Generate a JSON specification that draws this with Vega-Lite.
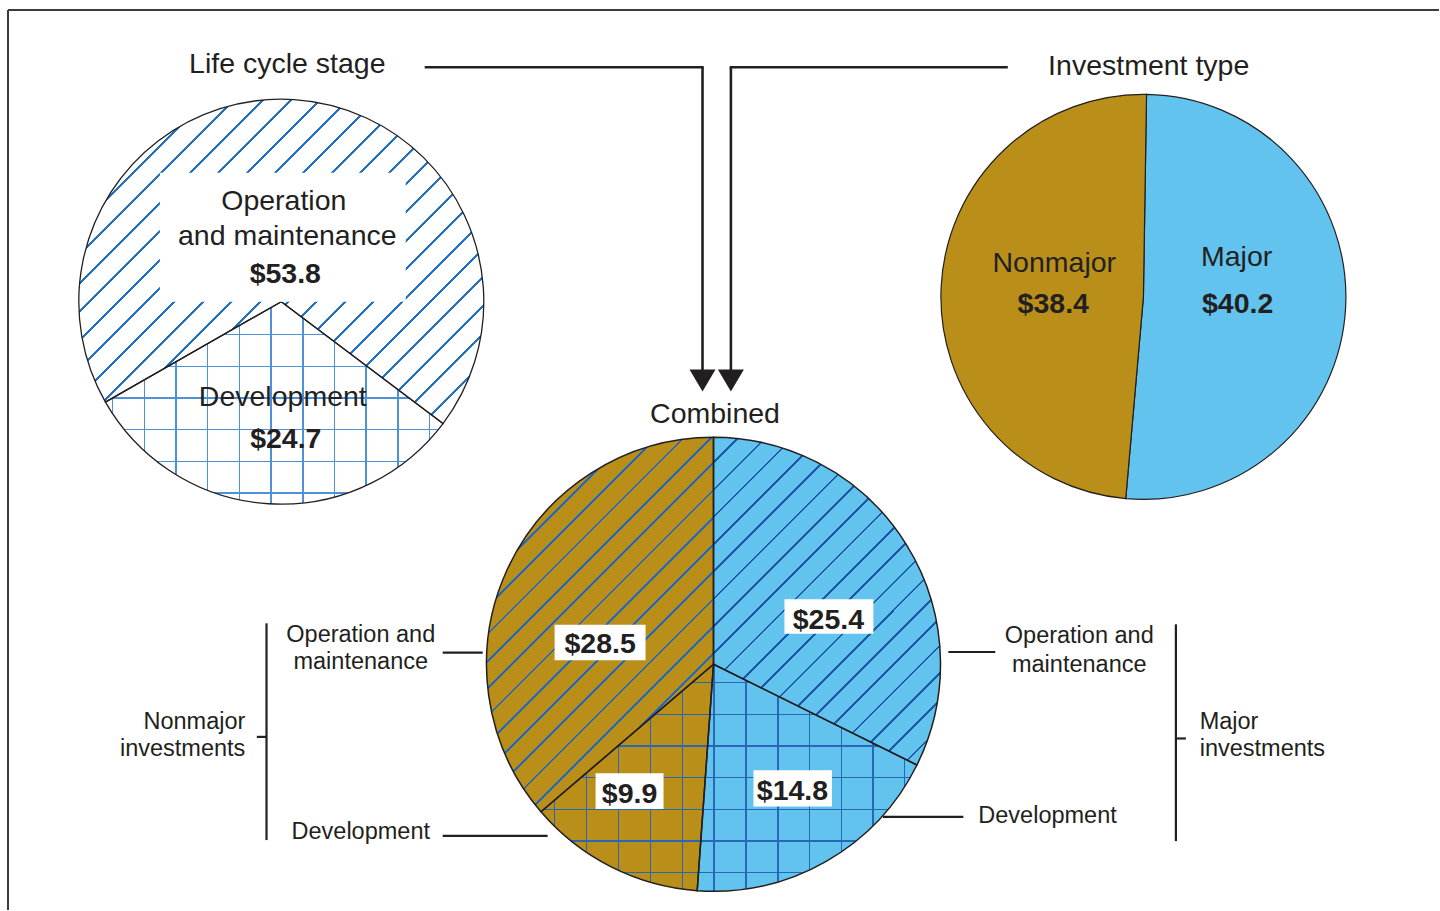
{
"$schema": "https://vega.github.io/schema/vega-lite/v6.json",
"width": 1440, "height": 911, "padding": 0,
"autosize": {"type": "fit", "contains": "padding"},
"background": "white",
"config": {"view": {"stroke": null}, "text": {"font": "Liberation Sans", "color": "#231f20"}},
"datasets": {
"slices": [
{"pie": "Life cycle stage", "stage": "Development", "type": null, "value": 24.7},
{"pie": "Life cycle stage", "stage": "Operation and maintenance", "type": null, "value": 53.8},
{"pie": "Investment type", "stage": null, "type": "Major", "value": 40.2},
{"pie": "Investment type", "stage": null, "type": "Nonmajor", "value": 38.4},
{"pie": "Combined", "stage": "Operation and maintenance", "type": "Major", "value": 25.4},
{"pie": "Combined", "stage": "Development", "type": "Major", "value": 14.8},
{"pie": "Combined", "stage": "Development", "type": "Nonmajor", "value": 9.9},
{"pie": "Combined", "stage": "Operation and maintenance", "type": "Nonmajor", "value": 28.5}
],
"lines": [
{"kind": "frame", "x": 8, "y": 10, "x2": 1440, "y2": 10},
{"kind": "frame", "x": 8, "y": 10, "x2": 8, "y2": 911},
{"kind": "arrow", "x": 425, "y": 67.3, "x2": 704.2, "y2": 67.3},
{"kind": "arrow", "x": 703, "y": 67.3, "x2": 703, "y2": 372},
{"kind": "arrow", "x": 730.2, "y": 67.3, "x2": 1008.5, "y2": 67.3},
{"kind": "arrow", "x": 731.4, "y": 67.3, "x2": 731.4, "y2": 372},
{"kind": "leader", "x": 443, "y": 653.3, "x2": 483, "y2": 653.3},
{"kind": "leader", "x": 443, "y": 836.7, "x2": 548, "y2": 836.7},
{"kind": "leader", "x": 266.7, "y": 624, "x2": 266.7, "y2": 841},
{"kind": "leader", "x": 257, "y": 737.7, "x2": 266.7, "y2": 737.7},
{"kind": "leader", "x": 949, "y": 652.7, "x2": 996, "y2": 652.7},
{"kind": "leader", "x": 883.5, "y": 817.7, "x2": 964, "y2": 817.7},
{"kind": "leader", "x": 1176.7, "y": 625, "x2": 1176.7, "y2": 842},
{"kind": "leader", "x": 1176.7, "y": 739.3, "x2": 1186.7, "y2": 739.3}
],
"arrowheads": [
{"x": 703, "y": 381},
{"x": 731.4, "y": 381}
],
"boxes": [
{"x": 160, "y": 173, "x2": 406, "y2": 302},
{"x": 555, "y": 625.5, "x2": 646, "y2": 661},
{"x": 785, "y": 600, "x2": 874, "y2": 634.5},
{"x": 596, "y": 774, "x2": 664, "y2": 810},
{"x": 754, "y": 771, "x2": 832.5, "y2": 807.5}
],
"labels": [
{"kind": "t", "text": "Life cycle stage", "x": 287.5, "y": 73.5},
{"kind": "t", "text": "Investment type", "x": 1149.5, "y": 75.5},
{"kind": "t", "text": "Combined", "x": 715.5, "y": 423.5},
{"kind": "t", "text": "Operation", "x": 284, "y": 210},
{"kind": "t", "text": "and maintenance", "x": 287.5, "y": 245},
{"kind": "t", "text": "Development", "x": 283, "y": 406.5},
{"kind": "t", "text": "Nonmajor", "x": 1055, "y": 272.5},
{"kind": "t", "text": "Major", "x": 1237.5, "y": 266},
{"kind": "b", "text": "$53.8", "x": 285.5, "y": 283.5},
{"kind": "b", "text": "$24.7", "x": 286, "y": 448.5},
{"kind": "b", "text": "$38.4", "x": 1054, "y": 313.5},
{"kind": "b", "text": "$40.2", "x": 1238.5, "y": 313.5},
{"kind": "b", "text": "$28.5", "x": 600.5, "y": 653.5},
{"kind": "b", "text": "$25.4", "x": 829, "y": 630},
{"kind": "b", "text": "$9.9", "x": 630, "y": 803.5},
{"kind": "b", "text": "$14.8", "x": 793, "y": 800.5},
{"kind": "sc", "text": "Operation and", "x": 361, "y": 642.5},
{"kind": "sc", "text": "maintenance", "x": 361, "y": 670},
{"kind": "sc", "text": "Development", "x": 361, "y": 840},
{"kind": "sc", "text": "Operation and", "x": 1080, "y": 644},
{"kind": "sc", "text": "maintenance", "x": 1080, "y": 672.5},
{"kind": "sr", "text": "Nonmajor", "x": 245.5, "y": 729.5},
{"kind": "sr", "text": "investments", "x": 245.5, "y": 757},
{"kind": "sl", "text": "Development", "x": 979, "y": 823.5},
{"kind": "sl", "text": "Major", "x": 1200.5, "y": 729.5},
{"kind": "sl", "text": "investments", "x": 1200.5, "y": 757}
]
},
"encoding": {
"x": {"field": "x", "type": "quantitative", "scale": {"domain": [0, 1440], "nice": false, "zero": false}, "axis": null},
"y": {"field": "y", "type": "quantitative", "scale": {"domain": [0, 911], "nice": false, "zero": false, "reverse": true}, "axis": null}
},
"resolve": {"scale": {"theta": "independent"}},
"layer": [
{
"data": {"name": "lines"},
"transform": [{"filter": "datum.kind==='frame'"}],
"mark": {"type": "rule", "stroke": "#3c3c3c", "strokeWidth": 2},
"encoding": {"x2": {"field": "x2"}, "y2": {"field": "y2"}}
},
{
"data": {"name": "slices"},
"transform": [{"filter": "datum.pie==='Life cycle stage'"}, {"stack": "value", "groupby": [], "as": ["s0", "s1"]}],
"mark": {"type": "arc", "radius": 202.5, "fill": "white", "x": {"expr": "scale('x', 281.5)"}, "y": {"expr": "scale('y', 302)"}},
"encoding": {
"x": null, "y": null,
"theta": {"field": "s0", "type": "quantitative", "stack": null, "scale": {"domain": [0, 78.5], "range": [2.2166, 8.4998], "nice": false, "zero": false}},
"theta2": {"field": "s1"}
}
},
{
"data": {"name": "slices"},
"transform": [{"filter": "datum.pie==='Life cycle stage'"}, {"stack": "value", "groupby": [], "as": ["s0", "s1"]}, {"filter": "datum.stage==='Operation and maintenance'"}],
"mark": {"type": "arc", "radius": 202.5, "x": {"expr": "scale('x', 281.5)"}, "y": {"expr": "scale('y', 302)"}, "fill": {"gradient": "linear", "x1": 0, "y1": 0, "x2": 1.0971, "y2": 0.8788, "stops": [
{"offset": 0, "color": "rgba(34,114,196,0)"},
{"offset": 0.01775, "color": "rgba(34,114,196,0)"}, {"offset": 0.01775, "color": "#2272C4"}, {"offset": 0.02175, "color": "#2272C4"}, {"offset": 0.02175, "color": "rgba(34,114,196,0)"},
{"offset": 0.05668, "color": "rgba(34,114,196,0)"}, {"offset": 0.05668, "color": "#2272C4"}, {"offset": 0.06068, "color": "#2272C4"}, {"offset": 0.06068, "color": "rgba(34,114,196,0)"},
{"offset": 0.09562, "color": "rgba(34,114,196,0)"}, {"offset": 0.09562, "color": "#2272C4"}, {"offset": 0.09962, "color": "#2272C4"}, {"offset": 0.09962, "color": "rgba(34,114,196,0)"},
{"offset": 0.13455, "color": "rgba(34,114,196,0)"}, {"offset": 0.13455, "color": "#2272C4"}, {"offset": 0.13855, "color": "#2272C4"}, {"offset": 0.13855, "color": "rgba(34,114,196,0)"},
{"offset": 0.17349, "color": "rgba(34,114,196,0)"}, {"offset": 0.17349, "color": "#2272C4"}, {"offset": 0.17749, "color": "#2272C4"}, {"offset": 0.17749, "color": "rgba(34,114,196,0)"},
{"offset": 0.21242, "color": "rgba(34,114,196,0)"}, {"offset": 0.21242, "color": "#2272C4"}, {"offset": 0.21642, "color": "#2272C4"}, {"offset": 0.21642, "color": "rgba(34,114,196,0)"},
{"offset": 0.25136, "color": "rgba(34,114,196,0)"}, {"offset": 0.25136, "color": "#2272C4"}, {"offset": 0.25536, "color": "#2272C4"}, {"offset": 0.25536, "color": "rgba(34,114,196,0)"},
{"offset": 0.2903, "color": "rgba(34,114,196,0)"}, {"offset": 0.2903, "color": "#2272C4"}, {"offset": 0.2943, "color": "#2272C4"}, {"offset": 0.2943, "color": "rgba(34,114,196,0)"},
{"offset": 0.32923, "color": "rgba(34,114,196,0)"}, {"offset": 0.32923, "color": "#2272C4"}, {"offset": 0.33323, "color": "#2272C4"}, {"offset": 0.33323, "color": "rgba(34,114,196,0)"},
{"offset": 0.36817, "color": "rgba(34,114,196,0)"}, {"offset": 0.36817, "color": "#2272C4"}, {"offset": 0.37217, "color": "#2272C4"}, {"offset": 0.37217, "color": "rgba(34,114,196,0)"},
{"offset": 0.4071, "color": "rgba(34,114,196,0)"}, {"offset": 0.4071, "color": "#2272C4"}, {"offset": 0.4111, "color": "#2272C4"}, {"offset": 0.4111, "color": "rgba(34,114,196,0)"},
{"offset": 0.44604, "color": "rgba(34,114,196,0)"}, {"offset": 0.44604, "color": "#2272C4"}, {"offset": 0.45004, "color": "#2272C4"}, {"offset": 0.45004, "color": "rgba(34,114,196,0)"},
{"offset": 0.48498, "color": "rgba(34,114,196,0)"}, {"offset": 0.48498, "color": "#2272C4"}, {"offset": 0.48898, "color": "#2272C4"}, {"offset": 0.48898, "color": "rgba(34,114,196,0)"},
{"offset": 0.52391, "color": "rgba(34,114,196,0)"}, {"offset": 0.52391, "color": "#2272C4"}, {"offset": 0.52791, "color": "#2272C4"}, {"offset": 0.52791, "color": "rgba(34,114,196,0)"},
{"offset": 0.56285, "color": "rgba(34,114,196,0)"}, {"offset": 0.56285, "color": "#2272C4"}, {"offset": 0.56685, "color": "#2272C4"}, {"offset": 0.56685, "color": "rgba(34,114,196,0)"},
{"offset": 0.60178, "color": "rgba(34,114,196,0)"}, {"offset": 0.60178, "color": "#2272C4"}, {"offset": 0.60578, "color": "#2272C4"}, {"offset": 0.60578, "color": "rgba(34,114,196,0)"},
{"offset": 0.64072, "color": "rgba(34,114,196,0)"}, {"offset": 0.64072, "color": "#2272C4"}, {"offset": 0.64472, "color": "#2272C4"}, {"offset": 0.64472, "color": "rgba(34,114,196,0)"},
{"offset": 0.67966, "color": "rgba(34,114,196,0)"}, {"offset": 0.67966, "color": "#2272C4"}, {"offset": 0.68366, "color": "#2272C4"}, {"offset": 0.68366, "color": "rgba(34,114,196,0)"},
{"offset": 0.71859, "color": "rgba(34,114,196,0)"}, {"offset": 0.71859, "color": "#2272C4"}, {"offset": 0.72259, "color": "#2272C4"}, {"offset": 0.72259, "color": "rgba(34,114,196,0)"},
{"offset": 0.75753, "color": "rgba(34,114,196,0)"}, {"offset": 0.75753, "color": "#2272C4"}, {"offset": 0.76153, "color": "#2272C4"}, {"offset": 0.76153, "color": "rgba(34,114,196,0)"},
{"offset": 0.79646, "color": "rgba(34,114,196,0)"}, {"offset": 0.79646, "color": "#2272C4"}, {"offset": 0.80046, "color": "#2272C4"}, {"offset": 0.80046, "color": "rgba(34,114,196,0)"},
{"offset": 0.8354, "color": "rgba(34,114,196,0)"}, {"offset": 0.8354, "color": "#2272C4"}, {"offset": 0.8394, "color": "#2272C4"}, {"offset": 0.8394, "color": "rgba(34,114,196,0)"},
{"offset": 0.87434, "color": "rgba(34,114,196,0)"}, {"offset": 0.87434, "color": "#2272C4"}, {"offset": 0.87834, "color": "#2272C4"}, {"offset": 0.87834, "color": "rgba(34,114,196,0)"},
{"offset": 0.91327, "color": "rgba(34,114,196,0)"}, {"offset": 0.91327, "color": "#2272C4"}, {"offset": 0.91727, "color": "#2272C4"}, {"offset": 0.91727, "color": "rgba(34,114,196,0)"},
{"offset": 0.95221, "color": "rgba(34,114,196,0)"}, {"offset": 0.95221, "color": "#2272C4"}, {"offset": 0.95621, "color": "#2272C4"}, {"offset": 0.95621, "color": "rgba(34,114,196,0)"},
{"offset": 0.99114, "color": "rgba(34,114,196,0)"}, {"offset": 0.99114, "color": "#2272C4"}, {"offset": 0.99514, "color": "#2272C4"}, {"offset": 0.99514, "color": "rgba(34,114,196,0)"},
{"offset": 1, "color": "rgba(34,114,196,0)"}
]}},
"encoding": {
"x": null, "y": null,
"theta": {"field": "s0", "type": "quantitative", "stack": null, "scale": {"domain": [0, 78.5], "range": [2.2166, 8.4998], "nice": false, "zero": false}},
"theta2": {"field": "s1"}
}
},
{
"data": {"name": "slices"},
"transform": [{"filter": "datum.pie==='Life cycle stage'"}, {"stack": "value", "groupby": [], "as": ["s0", "s1"]}, {"filter": "datum.stage==='Development'"}],
"mark": {"type": "arc", "radius": 202.5, "x": {"expr": "scale('x', 281.5)"}, "y": {"expr": "scale('y', 302)"}, "fill": {"gradient": "linear", "x1": 0, "y1": 0, "x2": 1, "y2": 0, "stops": [
{"offset": 0, "color": "rgba(77,146,216,0)"},
{"offset": 0.0186, "color": "rgba(77,146,216,0)"}, {"offset": 0.0186, "color": "#4D92D8"}, {"offset": 0.0228, "color": "#4D92D8"}, {"offset": 0.0228, "color": "rgba(77,146,216,0)"},
{"offset": 0.1135, "color": "rgba(77,146,216,0)"}, {"offset": 0.1135, "color": "#4D92D8"}, {"offset": 0.1177, "color": "#4D92D8"}, {"offset": 0.1177, "color": "rgba(77,146,216,0)"},
{"offset": 0.2074, "color": "rgba(77,146,216,0)"}, {"offset": 0.2074, "color": "#4D92D8"}, {"offset": 0.2116, "color": "#4D92D8"}, {"offset": 0.2116, "color": "rgba(77,146,216,0)"},
{"offset": 0.301, "color": "rgba(77,146,216,0)"}, {"offset": 0.301, "color": "#4D92D8"}, {"offset": 0.3052, "color": "#4D92D8"}, {"offset": 0.3052, "color": "rgba(77,146,216,0)"},
{"offset": 0.3949, "color": "rgba(77,146,216,0)"}, {"offset": 0.3949, "color": "#4D92D8"}, {"offset": 0.3991, "color": "#4D92D8"}, {"offset": 0.3991, "color": "rgba(77,146,216,0)"},
{"offset": 0.4889, "color": "rgba(77,146,216,0)"}, {"offset": 0.4889, "color": "#4D92D8"}, {"offset": 0.4931, "color": "#4D92D8"}, {"offset": 0.4931, "color": "rgba(77,146,216,0)"},
{"offset": 0.5825, "color": "rgba(77,146,216,0)"}, {"offset": 0.5825, "color": "#4D92D8"}, {"offset": 0.5867, "color": "#4D92D8"}, {"offset": 0.5867, "color": "rgba(77,146,216,0)"},
{"offset": 0.6764, "color": "rgba(77,146,216,0)"}, {"offset": 0.6764, "color": "#4D92D8"}, {"offset": 0.6806, "color": "#4D92D8"}, {"offset": 0.6806, "color": "rgba(77,146,216,0)"},
{"offset": 0.7703, "color": "rgba(77,146,216,0)"}, {"offset": 0.7703, "color": "#4D92D8"}, {"offset": 0.7745, "color": "#4D92D8"}, {"offset": 0.7745, "color": "rgba(77,146,216,0)"},
{"offset": 0.864, "color": "rgba(77,146,216,0)"}, {"offset": 0.864, "color": "#4D92D8"}, {"offset": 0.8682, "color": "#4D92D8"}, {"offset": 0.8682, "color": "rgba(77,146,216,0)"},
{"offset": 0.9579, "color": "rgba(77,146,216,0)"}, {"offset": 0.9579, "color": "#4D92D8"}, {"offset": 0.9621, "color": "#4D92D8"}, {"offset": 0.9621, "color": "rgba(77,146,216,0)"},
{"offset": 1, "color": "rgba(77,146,216,0)"}
]}},
"encoding": {
"x": null, "y": null,
"theta": {"field": "s0", "type": "quantitative", "stack": null, "scale": {"domain": [0, 78.5], "range": [2.2166, 8.4998], "nice": false, "zero": false}},
"theta2": {"field": "s1"}
}
},
{
"data": {"name": "slices"},
"transform": [{"filter": "datum.pie==='Life cycle stage'"}, {"stack": "value", "groupby": [], "as": ["s0", "s1"]}, {"filter": "datum.stage==='Development'"}],
"mark": {"type": "arc", "radius": 202.5, "x": {"expr": "scale('x', 281.5)"}, "y": {"expr": "scale('y', 302)"}, "fill": {"gradient": "linear", "x1": 0, "y1": 0, "x2": 0, "y2": 1, "stops": [
{"offset": 0, "color": "rgba(77,146,216,0)"},
{"offset": 0.1595, "color": "rgba(77,146,216,0)"}, {"offset": 0.1595, "color": "#4D92D8"}, {"offset": 0.1665, "color": "#4D92D8"}, {"offset": 0.1665, "color": "rgba(77,146,216,0)"},
{"offset": 0.316, "color": "rgba(77,146,216,0)"}, {"offset": 0.316, "color": "#4D92D8"}, {"offset": 0.323, "color": "#4D92D8"}, {"offset": 0.323, "color": "rgba(77,146,216,0)"},
{"offset": 0.4721, "color": "rgba(77,146,216,0)"}, {"offset": 0.4721, "color": "#4D92D8"}, {"offset": 0.4791, "color": "#4D92D8"}, {"offset": 0.4791, "color": "rgba(77,146,216,0)"},
{"offset": 0.6286, "color": "rgba(77,146,216,0)"}, {"offset": 0.6286, "color": "#4D92D8"}, {"offset": 0.6356, "color": "#4D92D8"}, {"offset": 0.6356, "color": "rgba(77,146,216,0)"},
{"offset": 0.7851, "color": "rgba(77,146,216,0)"}, {"offset": 0.7851, "color": "#4D92D8"}, {"offset": 0.7921, "color": "#4D92D8"}, {"offset": 0.7921, "color": "rgba(77,146,216,0)"},
{"offset": 0.9412, "color": "rgba(77,146,216,0)"}, {"offset": 0.9412, "color": "#4D92D8"}, {"offset": 0.9482, "color": "#4D92D8"}, {"offset": 0.9482, "color": "rgba(77,146,216,0)"},
{"offset": 1, "color": "rgba(77,146,216,0)"}
]}},
"encoding": {
"x": null, "y": null,
"theta": {"field": "s0", "type": "quantitative", "stack": null, "scale": {"domain": [0, 78.5], "range": [2.2166, 8.4998], "nice": false, "zero": false}},
"theta2": {"field": "s1"}
}
},
{
"data": {"name": "slices"},
"transform": [{"filter": "datum.pie==='Life cycle stage'"}, {"stack": "value", "groupby": [], "as": ["s0", "s1"]}],
"mark": {"type": "arc", "radius": 202.5, "filled": false, "stroke": "#231f20", "strokeWidth": 1.3, "x": {"expr": "scale('x', 281.5)"}, "y": {"expr": "scale('y', 302)"}},
"encoding": {
"x": null, "y": null,
"theta": {"field": "s0", "type": "quantitative", "stack": null, "scale": {"domain": [0, 78.5], "range": [2.2166, 8.4998], "nice": false, "zero": false}},
"theta2": {"field": "s1"}
}
},
{
"data": {"name": "slices"},
"transform": [{"filter": "datum.pie==='Investment type'"}, {"stack": "value", "groupby": [], "as": ["s0", "s1"]}],
"mark": {"type": "arc", "radius": 202.5, "stroke": "#231f20", "strokeWidth": 1.2, "x": {"expr": "scale('x', 1144.2)"}, "y": {"expr": "scale('y', 297.2)"}},
"encoding": {
"x": null, "y": null,
"theta": {"field": "s0", "type": "quantitative", "stack": null, "scale": {"domain": [0, 78.6], "range": [0.0154, 6.2986], "nice": false, "zero": false}},
"theta2": {"field": "s1"},
"fill": {"field": "type", "type": "nominal", "scale": {"domain": ["Major", "Nonmajor"], "range": ["#62C4EE", "#B98F1A"]}, "legend": null}
}
},
{
"data": {"name": "slices"},
"transform": [{"filter": "datum.pie==='Combined'"}, {"stack": "value", "groupby": [], "as": ["s0", "s1"]}],
"mark": {"type": "arc", "radius": 227, "x": {"expr": "scale('x', 714)"}, "y": {"expr": "scale('y', 665)"}},
"encoding": {
"x": null, "y": null,
"theta": {"field": "s0", "type": "quantitative", "stack": null, "scale": {"domain": [0, 78.6], "range": [0, 6.283185], "nice": false, "zero": false}},
"theta2": {"field": "s1"},
"fill": {"field": "type", "type": "nominal", "scale": {"domain": ["Major", "Nonmajor"], "range": ["#62C4EE", "#B98F1A"]}, "legend": null}
}
},
{
"data": {"name": "slices"},
"transform": [{"filter": "datum.pie==='Combined'"}, {"stack": "value", "groupby": [], "as": ["s0", "s1"]}, {"filter": "datum.stage==='Operation and maintenance' && datum.type==='Major'"}],
"mark": {"type": "arc", "radius": 227, "x": {"expr": "scale('x', 714)"}, "y": {"expr": "scale('y', 665)"}, "fill": {"gradient": "linear", "x1": 0, "y1": 0, "x2": 0.7924, "y2": 1.1438, "stops": [
{"offset": 0, "color": "rgba(28,88,166,0)"},
{"offset": 0.0432, "color": "rgba(28,88,166,0)"}, {"offset": 0.0432, "color": "#1C58A6"}, {"offset": 0.048, "color": "#1C58A6"}, {"offset": 0.048, "color": "rgba(28,88,166,0)"},
{"offset": 0.0924, "color": "rgba(28,88,166,0)"}, {"offset": 0.0924, "color": "#1C58A6"}, {"offset": 0.0972, "color": "#1C58A6"}, {"offset": 0.0972, "color": "rgba(28,88,166,0)"},
{"offset": 0.1416, "color": "rgba(28,88,166,0)"}, {"offset": 0.1416, "color": "#1C58A6"}, {"offset": 0.1464, "color": "#1C58A6"}, {"offset": 0.1464, "color": "rgba(28,88,166,0)"},
{"offset": 0.1908, "color": "rgba(28,88,166,0)"}, {"offset": 0.1908, "color": "#1C58A6"}, {"offset": 0.1956, "color": "#1C58A6"}, {"offset": 0.1956, "color": "rgba(28,88,166,0)"},
{"offset": 0.2401, "color": "rgba(28,88,166,0)"}, {"offset": 0.2401, "color": "#1C58A6"}, {"offset": 0.2449, "color": "#1C58A6"}, {"offset": 0.2449, "color": "rgba(28,88,166,0)"},
{"offset": 0.2893, "color": "rgba(28,88,166,0)"}, {"offset": 0.2893, "color": "#1C58A6"}, {"offset": 0.2941, "color": "#1C58A6"}, {"offset": 0.2941, "color": "rgba(28,88,166,0)"},
{"offset": 0.3385, "color": "rgba(28,88,166,0)"}, {"offset": 0.3385, "color": "#1C58A6"}, {"offset": 0.3433, "color": "#1C58A6"}, {"offset": 0.3433, "color": "rgba(28,88,166,0)"},
{"offset": 0.3877, "color": "rgba(28,88,166,0)"}, {"offset": 0.3877, "color": "#1C58A6"}, {"offset": 0.3925, "color": "#1C58A6"}, {"offset": 0.3925, "color": "rgba(28,88,166,0)"},
{"offset": 0.4369, "color": "rgba(28,88,166,0)"}, {"offset": 0.4369, "color": "#1C58A6"}, {"offset": 0.4417, "color": "#1C58A6"}, {"offset": 0.4417, "color": "rgba(28,88,166,0)"},
{"offset": 0.4861, "color": "rgba(28,88,166,0)"}, {"offset": 0.4861, "color": "#1C58A6"}, {"offset": 0.4909, "color": "#1C58A6"}, {"offset": 0.4909, "color": "rgba(28,88,166,0)"},
{"offset": 0.5354, "color": "rgba(28,88,166,0)"}, {"offset": 0.5354, "color": "#1C58A6"}, {"offset": 0.5402, "color": "#1C58A6"}, {"offset": 0.5402, "color": "rgba(28,88,166,0)"},
{"offset": 0.5846, "color": "rgba(28,88,166,0)"}, {"offset": 0.5846, "color": "#1C58A6"}, {"offset": 0.5894, "color": "#1C58A6"}, {"offset": 0.5894, "color": "rgba(28,88,166,0)"},
{"offset": 0.6338, "color": "rgba(28,88,166,0)"}, {"offset": 0.6338, "color": "#1C58A6"}, {"offset": 0.6386, "color": "#1C58A6"}, {"offset": 0.6386, "color": "rgba(28,88,166,0)"},
{"offset": 0.683, "color": "rgba(28,88,166,0)"}, {"offset": 0.683, "color": "#1C58A6"}, {"offset": 0.6878, "color": "#1C58A6"}, {"offset": 0.6878, "color": "rgba(28,88,166,0)"},
{"offset": 0.7322, "color": "rgba(28,88,166,0)"}, {"offset": 0.7322, "color": "#1C58A6"}, {"offset": 0.737, "color": "#1C58A6"}, {"offset": 0.737, "color": "rgba(28,88,166,0)"},
{"offset": 0.7814, "color": "rgba(28,88,166,0)"}, {"offset": 0.7814, "color": "#1C58A6"}, {"offset": 0.7862, "color": "#1C58A6"}, {"offset": 0.7862, "color": "rgba(28,88,166,0)"},
{"offset": 0.8306, "color": "rgba(28,88,166,0)"}, {"offset": 0.8306, "color": "#1C58A6"}, {"offset": 0.8354, "color": "#1C58A6"}, {"offset": 0.8354, "color": "rgba(28,88,166,0)"},
{"offset": 0.8799, "color": "rgba(28,88,166,0)"}, {"offset": 0.8799, "color": "#1C58A6"}, {"offset": 0.8847, "color": "#1C58A6"}, {"offset": 0.8847, "color": "rgba(28,88,166,0)"},
{"offset": 0.9291, "color": "rgba(28,88,166,0)"}, {"offset": 0.9291, "color": "#1C58A6"}, {"offset": 0.9339, "color": "#1C58A6"}, {"offset": 0.9339, "color": "rgba(28,88,166,0)"},
{"offset": 0.9783, "color": "rgba(28,88,166,0)"}, {"offset": 0.9783, "color": "#1C58A6"}, {"offset": 0.9831, "color": "#1C58A6"}, {"offset": 0.9831, "color": "rgba(28,88,166,0)"},
{"offset": 1, "color": "rgba(28,88,166,0)"}
]}},
"encoding": {
"x": null, "y": null,
"theta": {"field": "s0", "type": "quantitative", "stack": null, "scale": {"domain": [0, 78.6], "range": [0, 6.283185], "nice": false, "zero": false}},
"theta2": {"field": "s1"}
}
},
{
"data": {"name": "slices"},
"transform": [{"filter": "datum.pie==='Combined'"}, {"stack": "value", "groupby": [], "as": ["s0", "s1"]}, {"filter": "datum.stage==='Operation and maintenance' && datum.type==='Nonmajor'"}],
"mark": {"type": "arc", "radius": 227, "x": {"expr": "scale('x', 714)"}, "y": {"expr": "scale('y', 665)"}, "fill": {"gradient": "linear", "x1": 0, "y1": 0, "x2": 0.712, "y2": 1.1746, "stops": [
{"offset": 0, "color": "rgba(36,104,188,0)"},
{"offset": 0.0088, "color": "rgba(36,104,188,0)"}, {"offset": 0.0088, "color": "#2468BC"}, {"offset": 0.0132, "color": "#2468BC"}, {"offset": 0.0132, "color": "rgba(36,104,188,0)"},
{"offset": 0.0542, "color": "rgba(36,104,188,0)"}, {"offset": 0.0542, "color": "#2468BC"}, {"offset": 0.0586, "color": "#2468BC"}, {"offset": 0.0586, "color": "rgba(36,104,188,0)"},
{"offset": 0.0996, "color": "rgba(36,104,188,0)"}, {"offset": 0.0996, "color": "#2468BC"}, {"offset": 0.104, "color": "#2468BC"}, {"offset": 0.104, "color": "rgba(36,104,188,0)"},
{"offset": 0.145, "color": "rgba(36,104,188,0)"}, {"offset": 0.145, "color": "#2468BC"}, {"offset": 0.1494, "color": "#2468BC"}, {"offset": 0.1494, "color": "rgba(36,104,188,0)"},
{"offset": 0.1903, "color": "rgba(36,104,188,0)"}, {"offset": 0.1903, "color": "#2468BC"}, {"offset": 0.1947, "color": "#2468BC"}, {"offset": 0.1947, "color": "rgba(36,104,188,0)"},
{"offset": 0.2357, "color": "rgba(36,104,188,0)"}, {"offset": 0.2357, "color": "#2468BC"}, {"offset": 0.2401, "color": "#2468BC"}, {"offset": 0.2401, "color": "rgba(36,104,188,0)"},
{"offset": 0.2811, "color": "rgba(36,104,188,0)"}, {"offset": 0.2811, "color": "#2468BC"}, {"offset": 0.2855, "color": "#2468BC"}, {"offset": 0.2855, "color": "rgba(36,104,188,0)"},
{"offset": 0.3265, "color": "rgba(36,104,188,0)"}, {"offset": 0.3265, "color": "#2468BC"}, {"offset": 0.3309, "color": "#2468BC"}, {"offset": 0.3309, "color": "rgba(36,104,188,0)"},
{"offset": 0.3719, "color": "rgba(36,104,188,0)"}, {"offset": 0.3719, "color": "#2468BC"}, {"offset": 0.3763, "color": "#2468BC"}, {"offset": 0.3763, "color": "rgba(36,104,188,0)"},
{"offset": 0.4173, "color": "rgba(36,104,188,0)"}, {"offset": 0.4173, "color": "#2468BC"}, {"offset": 0.4217, "color": "#2468BC"}, {"offset": 0.4217, "color": "rgba(36,104,188,0)"},
{"offset": 0.4627, "color": "rgba(36,104,188,0)"}, {"offset": 0.4627, "color": "#2468BC"}, {"offset": 0.4671, "color": "#2468BC"}, {"offset": 0.4671, "color": "rgba(36,104,188,0)"},
{"offset": 0.5081, "color": "rgba(36,104,188,0)"}, {"offset": 0.5081, "color": "#2468BC"}, {"offset": 0.5125, "color": "#2468BC"}, {"offset": 0.5125, "color": "rgba(36,104,188,0)"},
{"offset": 0.5534, "color": "rgba(36,104,188,0)"}, {"offset": 0.5534, "color": "#2468BC"}, {"offset": 0.5578, "color": "#2468BC"}, {"offset": 0.5578, "color": "rgba(36,104,188,0)"},
{"offset": 0.5988, "color": "rgba(36,104,188,0)"}, {"offset": 0.5988, "color": "#2468BC"}, {"offset": 0.6032, "color": "#2468BC"}, {"offset": 0.6032, "color": "rgba(36,104,188,0)"},
{"offset": 0.6442, "color": "rgba(36,104,188,0)"}, {"offset": 0.6442, "color": "#2468BC"}, {"offset": 0.6486, "color": "#2468BC"}, {"offset": 0.6486, "color": "rgba(36,104,188,0)"},
{"offset": 0.6896, "color": "rgba(36,104,188,0)"}, {"offset": 0.6896, "color": "#2468BC"}, {"offset": 0.694, "color": "#2468BC"}, {"offset": 0.694, "color": "rgba(36,104,188,0)"},
{"offset": 0.735, "color": "rgba(36,104,188,0)"}, {"offset": 0.735, "color": "#2468BC"}, {"offset": 0.7394, "color": "#2468BC"}, {"offset": 0.7394, "color": "rgba(36,104,188,0)"},
{"offset": 1, "color": "rgba(36,104,188,0)"}
]}},
"encoding": {
"x": null, "y": null,
"theta": {"field": "s0", "type": "quantitative", "stack": null, "scale": {"domain": [0, 78.6], "range": [0, 6.283185], "nice": false, "zero": false}},
"theta2": {"field": "s1"}
}
},
{
"data": {"name": "slices"},
"transform": [{"filter": "datum.pie==='Combined'"}, {"stack": "value", "groupby": [], "as": ["s0", "s1"]}, {"filter": "datum.stage==='Development' && datum.type==='Major'"}],
"mark": {"type": "arc", "radius": 227, "x": {"expr": "scale('x', 714)"}, "y": {"expr": "scale('y', 665)"}, "fill": {"gradient": "linear", "x1": 0, "y1": 0, "x2": 1, "y2": 0, "stops": [
{"offset": 0, "color": "rgba(42,102,184,0)"},
{"offset": 0.0724, "color": "rgba(42,102,184,0)"}, {"offset": 0.0724, "color": "#2A66B8"}, {"offset": 0.0788, "color": "#2A66B8"}, {"offset": 0.0788, "color": "rgba(42,102,184,0)"},
{"offset": 0.2198, "color": "rgba(42,102,184,0)"}, {"offset": 0.2198, "color": "#2A66B8"}, {"offset": 0.2262, "color": "#2A66B8"}, {"offset": 0.2262, "color": "rgba(42,102,184,0)"},
{"offset": 0.3637, "color": "rgba(42,102,184,0)"}, {"offset": 0.3637, "color": "#2A66B8"}, {"offset": 0.3701, "color": "#2A66B8"}, {"offset": 0.3701, "color": "rgba(42,102,184,0)"},
{"offset": 0.5079, "color": "rgba(42,102,184,0)"}, {"offset": 0.5079, "color": "#2A66B8"}, {"offset": 0.5143, "color": "#2A66B8"}, {"offset": 0.5143, "color": "rgba(42,102,184,0)"},
{"offset": 0.6522, "color": "rgba(42,102,184,0)"}, {"offset": 0.6522, "color": "#2A66B8"}, {"offset": 0.6586, "color": "#2A66B8"}, {"offset": 0.6586, "color": "rgba(42,102,184,0)"},
{"offset": 0.7961, "color": "rgba(42,102,184,0)"}, {"offset": 0.7961, "color": "#2A66B8"}, {"offset": 0.8025, "color": "#2A66B8"}, {"offset": 0.8025, "color": "rgba(42,102,184,0)"},
{"offset": 0.9399, "color": "rgba(42,102,184,0)"}, {"offset": 0.9399, "color": "#2A66B8"}, {"offset": 0.9463, "color": "#2A66B8"}, {"offset": 0.9463, "color": "rgba(42,102,184,0)"},
{"offset": 1, "color": "rgba(42,102,184,0)"}
]}},
"encoding": {
"x": null, "y": null,
"theta": {"field": "s0", "type": "quantitative", "stack": null, "scale": {"domain": [0, 78.6], "range": [0, 6.283185], "nice": false, "zero": false}},
"theta2": {"field": "s1"}
}
},
{
"data": {"name": "slices"},
"transform": [{"filter": "datum.pie==='Combined'"}, {"stack": "value", "groupby": [], "as": ["s0", "s1"]}, {"filter": "datum.stage==='Development' && datum.type==='Major'"}],
"mark": {"type": "arc", "radius": 227, "x": {"expr": "scale('x', 714)"}, "y": {"expr": "scale('y', 665)"}, "fill": {"gradient": "linear", "x1": 0, "y1": 0, "x2": 0, "y2": 1, "stops": [
{"offset": 0, "color": "rgba(42,102,184,0)"},
{"offset": 0.0775, "color": "rgba(42,102,184,0)"}, {"offset": 0.0775, "color": "#2A66B8"}, {"offset": 0.0837, "color": "#2A66B8"}, {"offset": 0.0837, "color": "rgba(42,102,184,0)"},
{"offset": 0.2172, "color": "rgba(42,102,184,0)"}, {"offset": 0.2172, "color": "#2A66B8"}, {"offset": 0.2234, "color": "#2A66B8"}, {"offset": 0.2234, "color": "rgba(42,102,184,0)"},
{"offset": 0.3568, "color": "rgba(42,102,184,0)"}, {"offset": 0.3568, "color": "#2A66B8"}, {"offset": 0.363, "color": "#2A66B8"}, {"offset": 0.363, "color": "rgba(42,102,184,0)"},
{"offset": 0.496, "color": "rgba(42,102,184,0)"}, {"offset": 0.496, "color": "#2A66B8"}, {"offset": 0.5022, "color": "#2A66B8"}, {"offset": 0.5022, "color": "rgba(42,102,184,0)"},
{"offset": 0.6357, "color": "rgba(42,102,184,0)"}, {"offset": 0.6357, "color": "#2A66B8"}, {"offset": 0.6419, "color": "#2A66B8"}, {"offset": 0.6419, "color": "rgba(42,102,184,0)"},
{"offset": 0.7753, "color": "rgba(42,102,184,0)"}, {"offset": 0.7753, "color": "#2A66B8"}, {"offset": 0.7815, "color": "#2A66B8"}, {"offset": 0.7815, "color": "rgba(42,102,184,0)"},
{"offset": 0.9145, "color": "rgba(42,102,184,0)"}, {"offset": 0.9145, "color": "#2A66B8"}, {"offset": 0.9207, "color": "#2A66B8"}, {"offset": 0.9207, "color": "rgba(42,102,184,0)"},
{"offset": 1, "color": "rgba(42,102,184,0)"}
]}},
"encoding": {
"x": null, "y": null,
"theta": {"field": "s0", "type": "quantitative", "stack": null, "scale": {"domain": [0, 78.6], "range": [0, 6.283185], "nice": false, "zero": false}},
"theta2": {"field": "s1"}
}
},
{
"data": {"name": "slices"},
"transform": [{"filter": "datum.pie==='Combined'"}, {"stack": "value", "groupby": [], "as": ["s0", "s1"]}, {"filter": "datum.stage==='Development' && datum.type==='Nonmajor'"}],
"mark": {"type": "arc", "radius": 227, "x": {"expr": "scale('x', 714)"}, "y": {"expr": "scale('y', 665)"}, "fill": {"gradient": "linear", "x1": 0, "y1": 0, "x2": 1, "y2": 0, "stops": [
{"offset": 0, "color": "rgba(42,102,184,0)"},
{"offset": 0.0747, "color": "rgba(42,102,184,0)"}, {"offset": 0.0747, "color": "#2A66B8"}, {"offset": 0.0829, "color": "#2A66B8"}, {"offset": 0.0829, "color": "rgba(42,102,184,0)"},
{"offset": 0.2584, "color": "rgba(42,102,184,0)"}, {"offset": 0.2584, "color": "#2A66B8"}, {"offset": 0.2666, "color": "#2A66B8"}, {"offset": 0.2666, "color": "rgba(42,102,184,0)"},
{"offset": 0.4455, "color": "rgba(42,102,184,0)"}, {"offset": 0.4455, "color": "#2A66B8"}, {"offset": 0.4537, "color": "#2A66B8"}, {"offset": 0.4537, "color": "rgba(42,102,184,0)"},
{"offset": 0.6292, "color": "rgba(42,102,184,0)"}, {"offset": 0.6292, "color": "#2A66B8"}, {"offset": 0.6374, "color": "#2A66B8"}, {"offset": 0.6374, "color": "rgba(42,102,184,0)"},
{"offset": 0.8146, "color": "rgba(42,102,184,0)"}, {"offset": 0.8146, "color": "#2A66B8"}, {"offset": 0.8228, "color": "#2A66B8"}, {"offset": 0.8228, "color": "rgba(42,102,184,0)"},
{"offset": 1, "color": "rgba(42,102,184,0)"}
]}},
"encoding": {
"x": null, "y": null,
"theta": {"field": "s0", "type": "quantitative", "stack": null, "scale": {"domain": [0, 78.6], "range": [0, 6.283185], "nice": false, "zero": false}},
"theta2": {"field": "s1"}
}
},
{
"data": {"name": "slices"},
"transform": [{"filter": "datum.pie==='Combined'"}, {"stack": "value", "groupby": [], "as": ["s0", "s1"]}, {"filter": "datum.stage==='Development' && datum.type==='Nonmajor'"}],
"mark": {"type": "arc", "radius": 227, "x": {"expr": "scale('x', 714)"}, "y": {"expr": "scale('y', 665)"}, "fill": {"gradient": "linear", "x1": 0, "y1": 0, "x2": 0, "y2": 1, "stops": [
{"offset": 0, "color": "rgba(42,102,184,0)"},
{"offset": 0.0777, "color": "rgba(42,102,184,0)"}, {"offset": 0.0777, "color": "#2A66B8"}, {"offset": 0.0839, "color": "#2A66B8"}, {"offset": 0.0839, "color": "rgba(42,102,184,0)"},
{"offset": 0.2177, "color": "rgba(42,102,184,0)"}, {"offset": 0.2177, "color": "#2A66B8"}, {"offset": 0.2239, "color": "#2A66B8"}, {"offset": 0.2239, "color": "rgba(42,102,184,0)"},
{"offset": 0.3578, "color": "rgba(42,102,184,0)"}, {"offset": 0.3578, "color": "#2A66B8"}, {"offset": 0.364, "color": "#2A66B8"}, {"offset": 0.364, "color": "rgba(42,102,184,0)"},
{"offset": 0.4973, "color": "rgba(42,102,184,0)"}, {"offset": 0.4973, "color": "#2A66B8"}, {"offset": 0.5035, "color": "#2A66B8"}, {"offset": 0.5035, "color": "rgba(42,102,184,0)"},
{"offset": 0.6374, "color": "rgba(42,102,184,0)"}, {"offset": 0.6374, "color": "#2A66B8"}, {"offset": 0.6436, "color": "#2A66B8"}, {"offset": 0.6436, "color": "rgba(42,102,184,0)"},
{"offset": 0.7774, "color": "rgba(42,102,184,0)"}, {"offset": 0.7774, "color": "#2A66B8"}, {"offset": 0.7836, "color": "#2A66B8"}, {"offset": 0.7836, "color": "rgba(42,102,184,0)"},
{"offset": 0.9174, "color": "rgba(42,102,184,0)"}, {"offset": 0.9174, "color": "#2A66B8"}, {"offset": 0.9236, "color": "#2A66B8"}, {"offset": 0.9236, "color": "rgba(42,102,184,0)"},
{"offset": 1, "color": "rgba(42,102,184,0)"}
]}},
"encoding": {
"x": null, "y": null,
"theta": {"field": "s0", "type": "quantitative", "stack": null, "scale": {"domain": [0, 78.6], "range": [0, 6.283185], "nice": false, "zero": false}},
"theta2": {"field": "s1"}
}
},
{
"data": {"name": "slices"},
"transform": [{"filter": "datum.pie==='Combined'"}, {"stack": "value", "groupby": [], "as": ["s0", "s1"]}],
"mark": {"type": "arc", "radius": 227, "filled": false, "stroke": "#231f20", "strokeWidth": 1.5, "x": {"expr": "scale('x', 714)"}, "y": {"expr": "scale('y', 665)"}},
"encoding": {
"x": null, "y": null,
"theta": {"field": "s0", "type": "quantitative", "stack": null, "scale": {"domain": [0, 78.6], "range": [0, 6.283185], "nice": false, "zero": false}},
"theta2": {"field": "s1"}
}
},
{
"data": {"name": "lines"},
"transform": [{"filter": "datum.kind==='arrow'"}],
"mark": {"type": "rule", "stroke": "#231f20", "strokeWidth": 2.6},
"encoding": {"x2": {"field": "x2"}, "y2": {"field": "y2"}}
},
{
"data": {"name": "lines"},
"transform": [{"filter": "datum.kind==='leader'"}],
"mark": {"type": "rule", "stroke": "#231f20", "strokeWidth": 2.2},
"encoding": {"x2": {"field": "x2"}, "y2": {"field": "y2"}}
},
{
"data": {"name": "arrowheads"},
"mark": {"type": "point", "shape": "M-1,-0.846L1,-0.846L0,0.846Z", "size": 676, "filled": true, "fill": "#231f20", "stroke": null, "opacity": 1},
"encoding": {}
},
{
"data": {"name": "boxes"},
"mark": {"type": "rect", "fill": "white"},
"encoding": {"x2": {"field": "x2"}, "y2": {"field": "y2"}}
},
{
"data": {"name": "labels"},
"transform": [{"filter": "datum.kind==='t'"}],
"mark": {"type": "text", "fontSize": 28.5, "align": "center", "baseline": "alphabetic"},
"encoding": {"text": {"field": "text"}}
},
{
"data": {"name": "labels"},
"transform": [{"filter": "datum.kind==='b'"}],
"mark": {"type": "text", "fontSize": 28.5, "fontWeight": "bold", "align": "center", "baseline": "alphabetic"},
"encoding": {"text": {"field": "text"}}
},
{
"data": {"name": "labels"},
"transform": [{"filter": "datum.kind==='sc'"}],
"mark": {"type": "text", "fontSize": 23.5, "align": "center", "baseline": "alphabetic"},
"encoding": {"text": {"field": "text"}}
},
{
"data": {"name": "labels"},
"transform": [{"filter": "datum.kind==='sr'"}],
"mark": {"type": "text", "fontSize": 23.5, "align": "right", "baseline": "alphabetic"},
"encoding": {"text": {"field": "text"}}
},
{
"data": {"name": "labels"},
"transform": [{"filter": "datum.kind==='sl'"}],
"mark": {"type": "text", "fontSize": 23.5, "align": "left", "baseline": "alphabetic"},
"encoding": {"text": {"field": "text"}}
}
]
}
